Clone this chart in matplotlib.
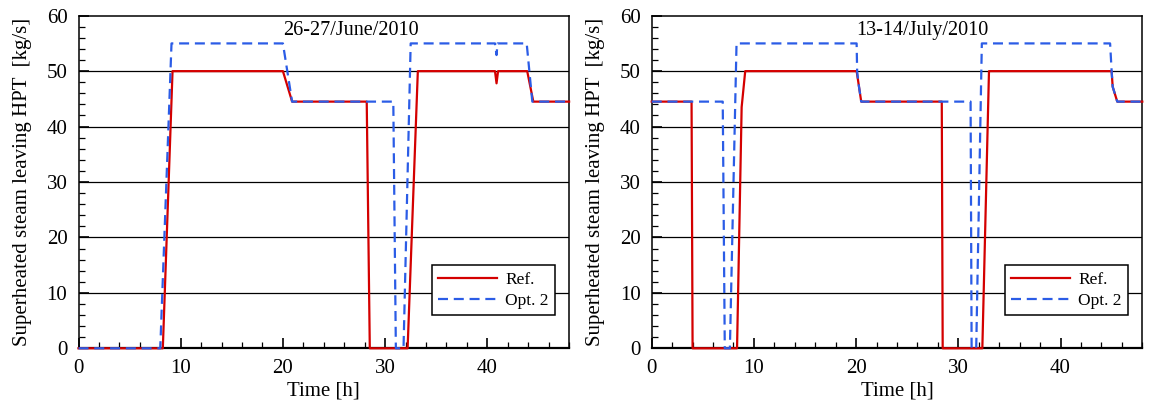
import matplotlib
matplotlib.use("Agg")
import matplotlib.pyplot as plt
from matplotlib.ticker import MultipleLocator

plt.rcParams['font.family'] = ['Liberation Serif', 'DejaVu Serif']

# ---- data: 26-27/June/2010 ----
june_ref_t = [0, 8.25, 9.2, 20.0, 20.9, 28.2, 28.5, 32.2, 33.2, 40.75, 40.9, 41.05, 43.9, 44.5, 48]
june_ref_y = [0, 0, 50, 50, 44.5, 44.5, 0, 0, 50, 50, 47.8, 50, 50, 44.5, 44.5]
june_opt_t = [0, 8.0, 9.1, 20.0, 20.9, 30.8, 31.05, 31.8, 32.5, 40.75, 40.9, 41.0, 43.85, 44.4, 48]
june_opt_y = [0, 0, 55, 55, 44.5, 44.5, 0, 0, 55, 55, 52.9, 55, 55, 44.5, 44.5]

# ---- data: 13-14/July/2010 ----
july_ref_t = [0, 3.9, 4.0, 8.35, 8.8, 9.15, 20.05, 20.2, 20.5, 28.38, 28.47, 32.35, 33.0, 45.0, 45.1, 45.55, 48]
july_ref_y = [44.5, 44.5, 0, 0, 43.5, 50, 50, 48.2, 44.5, 44.5, 0, 0, 50, 50, 47.2, 44.5, 44.5]
july_opt_t = [0, 6.95, 7.15, 7.65, 8.3, 20.05, 20.1, 20.2, 20.5, 31.2, 31.3, 31.75, 32.3, 44.85, 45.0, 45.1, 45.55, 48]
july_opt_y = [44.5, 44.5, 0, 0, 55, 55, 50, 48.2, 44.5, 44.5, 0, 0, 55, 55, 50, 47.2, 44.5, 44.5]

titles = ['26-27/June/2010', '13-14/July/2010']
series_labels = ['Ref.', 'Opt. 2']
xlabel = 'Time [h]'
ylabel = 'Superheated steam leaving HPT  [kg/s]'
grid_levels = [10, 20, 30, 40, 50]

RED = '#d40000'
BLUE = '#2b5ce6'

fig = plt.figure(figsize=(11.5, 4.07), dpi=100)
W, H = 1150, 407
ax_w = 490.6 / W
ax_h = 332.6 / H
bottom = (H - 348.3) / H
lefts = [78.5 / W, 651.7 / W]

data = [(june_ref_t, june_ref_y, june_opt_t, june_opt_y),
        (july_ref_t, july_ref_y, july_opt_t, july_opt_y)]

for i, (rt, ry, ot, oy) in enumerate(data):
    ax = fig.add_axes([lefts[i], bottom, ax_w, ax_h])
    for g in grid_levels:
        ax.axhline(g, color='black', lw=0.9, zorder=1)
    ax.plot(rt, ry, color=RED, lw=1.6, label=series_labels[0], zorder=3, clip_on=False)
    ax.plot(ot, oy, color=BLUE, lw=1.6, ls=(0, (4.5, 2.6)), label=series_labels[1],
            zorder=3.5, clip_on=False)
    ax.set_xlim(0, 48)
    ax.set_ylim(0, 60)
    ax.xaxis.set_major_locator(MultipleLocator(10))
    ax.xaxis.set_minor_locator(MultipleLocator(2))
    ax.yaxis.set_major_locator(MultipleLocator(10))
    ax.yaxis.set_minor_locator(MultipleLocator(2))
    ax.tick_params(which='both', direction='in', top=False, right=False, labelsize=15)
    ax.tick_params(which='major', length=7, width=1.2)
    ax.tick_params(which='minor', length=4.5, width=0.9)
    ax.tick_params(axis='x', which='major', pad=8)
    ax.tick_params(axis='y', which='major', pad=8)
    for s in ax.spines.values():
        s.set_linewidth(1.1)
    ax.spines['bottom'].set_linewidth(1.6)
    ax.set_xlabel(xlabel, fontsize=15)
    ax.set_ylabel(ylabel, fontsize=15)
    ax.xaxis.set_label_coords(0.5, -0.1)
    ax.yaxis.set_label_coords(-0.095, 0.5)
    ax.text(20.0, 57.3, titles[i], fontsize=14.5, ha='left', va='center', zorder=4)
    leg = ax.legend(loc='lower right', bbox_to_anchor=(0.971, 0.100), borderaxespad=0,
                    fontsize=12.5, handlelength=3.4, handletextpad=0.5, fancybox=False,
                    framealpha=1, edgecolor='black', borderpad=0.35, labelspacing=0.3)
    leg.get_frame().set_linewidth(1.1)
    leg.set_zorder(5)

fig.savefig('out.png', dpi=100)
